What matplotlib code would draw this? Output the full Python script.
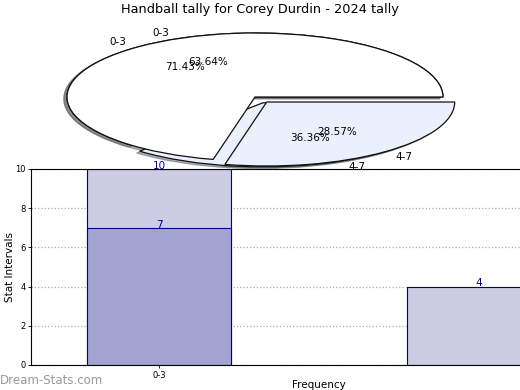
import matplotlib
matplotlib.use("Agg")
import matplotlib.pyplot as plt
import numpy as np

title = "Handball tally for Corey Durdin - 2024 tally"
categories = ["0-3", "4-7"]
tally_a = [7, 4]    # pie drawn first
tally_b = [10, 4]   # pie drawn second / light bars
tick_labels = ["0-3"]
y_ticks = [0, 2, 4, 6, 8, 10]

light = "#ccccE4"
dark = "#a3a3d0"
navy = "#000080"
pie_colors = ["#ffffff", "#eaf0fc"]

fig = plt.figure(figsize=(5.2, 3.9), dpi=100)

# bar axes (extends beyond right edge of figure)
axb = fig.add_axes([31/520, 25/390, 576/520, 196/390])
x = np.arange(len(categories))
bw = 0.45
bars_b = axb.bar(x, tally_b, width=bw, color=light, edgecolor=navy, linewidth=0.8, zorder=2)
bars_a = axb.bar(x[:1], tally_a[:1], width=bw, color=dark, edgecolor=navy, linewidth=0.8, zorder=2)
for rect, v in zip(list(bars_b), tally_b):
    axb.text(rect.get_x() + rect.get_width()/2, rect.get_height() - 0.08, str(v),
             ha="center", va="bottom", color=navy, fontsize=7.5, zorder=5)
for rect, v in zip(list(bars_a), tally_a[:1]):
    axb.text(rect.get_x() + rect.get_width()/2, rect.get_height() - 0.12, str(v),
             ha="center", va="bottom", color=navy, fontsize=7.5, zorder=5)
axb.set_xlim(-0.4, 1.4)
axb.set_ylim(0, 10)
axb.set_xticks(x[:1])
axb.set_xticklabels(tick_labels, fontsize=6)
axb.set_yticks(y_ticks)
axb.set_yticklabels([str(t) for t in y_ticks], fontsize=6)
axb.tick_params(length=2, width=0.6, pad=2)
axb.set_axisbelow(True)
axb.grid(True, linestyle=":", color="#aaaaaa", linewidth=0.9)
for gl in axb.get_xgridlines():
    gl.set_zorder(3)
    gl.set_color("#9a9ab0")
axb.set_ylabel("Stat Intervals", fontsize=7.5, va="center")
axb.yaxis.set_label_coords(-21/576, 0.5)
axb.set_xlabel("Frequency", fontsize=7.5, va="center")
axb.xaxis.set_label_coords(0.5, -20/196)
for s in axb.spines.values():
    s.set_linewidth(0.8)

# pie axes
axp = fig.add_axes([20/520, (390-177)/390, 470/520, 160/390])
axp.patch.set_alpha(0)
wedgeprops = dict(edgecolor="#111111", linewidth=0.9)
shadow = dict(ox=-0.012, oy=-0.02, shade=0.6)
axp.pie(tally_a, labels=categories, colors=pie_colors, autopct="%.2f%%",
        explode=[0, 0.1], shadow=shadow, startangle=0, wedgeprops=wedgeprops,
        textprops=dict(fontsize=7.5))
axp.pie(tally_b, labels=categories, colors=pie_colors, autopct="%.2f%%",
        explode=[0, 0.1], shadow=shadow, startangle=0, wedgeprops=wedgeprops,
        textprops=dict(fontsize=7.5))
axp.set_aspect("auto")
axp.set_xlim(-1.25, 1.25)
axp.set_ylim(-1.25, 1.25)
axp.axis("off")

fig.text(0.5, 1 - 10/390, title, ha="center", va="center", fontsize=9.3)
fig.text(0.0, 10/390, "Dream-Stats.com", ha="left", va="center", fontsize=8.5,
         color="#999999")

fig.savefig("out.png", dpi=100)
